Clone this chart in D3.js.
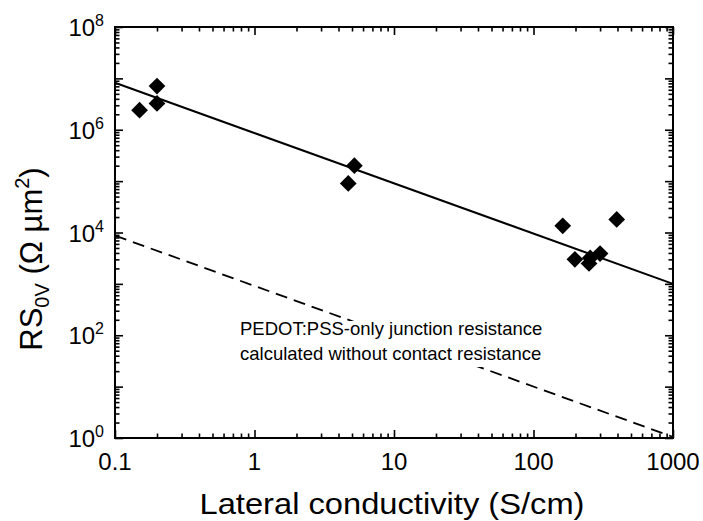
<!DOCTYPE html>
<html>
<head>
<meta charset="utf-8">
<script src="https://d3js.org/d3.v7.min.js"></script>
<style>
  body { margin: 0; background: #fff; }
  text { font-family: Arial, "Liberation Sans", sans-serif; fill: #000; }
</style>
</head>
<body>
<div id="chart"></div>
<script>
// data
var conductivity = [0.15, 0.2, 0.2, 4.7, 5.2, 162, 198, 250, 255, 300, 395];
var resistance   = [2.4e6, 7.1e6, 3.25e6, 9.0e4, 2.0e5, 1.35e4, 3.0e3, 2.5e3, 3.2e3, 3.9e3, 1.8e4];
var fitLine    = [[0.1, 8.2e6], [1000, 1.0e3]];
var pedotLine  = [[0.1, 8700], [1000, 1.05]];
var xTickLabels = ["0.1", "1", "10", "100", "1000"];
var yTickExps   = [0, 2, 4, 6, 8];
var noteLines = ["PEDOT:PSS-only junction resistance", "calculated without contact resistance"];

var width = 703;
var height = 521;
var margin = {top: 27, right: 30, bottom: 83, left: 115};
var w = width - margin.left - margin.right;
var h = height - margin.top - margin.bottom;

var svg = d3.select("#chart").append("svg")
    .attr("width", width)
    .attr("height", height)
  .append("g")
    .attr("transform", "translate(" + margin.left + "," + margin.top + ")");

var x = d3.scaleLog().domain([0.1, 1000]).range([0, w]);
var y = d3.scaleLog().domain([1, 1e8]).range([h, 0]);

// decade ticks and the 2..9 minor ticks in between
function decades(lo, hi) {
  var out = [];
  for (var e = lo; e <= hi; e++) out.push(Math.pow(10, e));
  return out;
}
function minors(lo, hi) {
  var out = [];
  for (var e = lo; e < hi; e++)
    for (var k = 2; k <= 9; k++) out.push(k * Math.pow(10, e));
  return out;
}
var xMajor = decades(-1, 3), xMinor = minors(-1, 3);
var yMajor = decades(0, 8), yMinor = minors(0, 8);

function tickAxis(gen, scale, vals, size) {
  return gen(scale).tickValues(vals).tickSize(-size).tickSizeOuter(0).tickFormat("");
}

var axes = [
  [d3.axisBottom, x, "translate(0," + h + ")"],
  [d3.axisTop, x, "translate(0,0)"],
  [d3.axisLeft, y, "translate(0,0)"],
  [d3.axisRight, y, "translate(" + w + ",0)"]
];
axes.forEach(function(a) {
  var vals = (a[1] === x) ? [xMajor, xMinor] : [yMajor, yMinor];
  svg.append("g").attr("transform", a[2]).call(tickAxis(a[0], a[1], vals[0], 8));
  svg.append("g").attr("transform", a[2]).call(tickAxis(a[0], a[1], vals[1], 4.5));
});
svg.selectAll(".domain").remove();
svg.selectAll(".tick line").attr("stroke", "#000").attr("stroke-width", 1.6);

// frame
svg.append("rect")
    .attr("width", w)
    .attr("height", h)
    .attr("fill", "none")
    .attr("stroke", "#000")
    .attr("stroke-width", 2);

// x tick labels
svg.selectAll(".xlab")
    .data(xMajor)
  .enter().append("text")
    .attr("class", "xlab")
    .attr("x", function(d) { return x(d); })
    .attr("y", h + 32)
    .style("text-anchor", "middle")
    .style("font-size", "24px")
    .text(function(d, i) { return xTickLabels[i]; });

// y tick labels, 10 with a raised exponent
var ylab = svg.selectAll(".ylab")
    .data(yTickExps)
  .enter().append("text")
    .attr("class", "ylab")
    .attr("x", -11)
    .attr("y", function(d) { return y(Math.pow(10, d)) + 9; })
    .style("text-anchor", "end")
    .style("font-size", "24px");
ylab.append("tspan").text("10");
ylab.append("tspan")
    .attr("dy", -10)
    .style("font-size", "16px")
    .text(function(d) { return d; });

svg.append("clipPath").attr("id", "plotclip")
  .append("rect").attr("width", w).attr("height", h);

var line = d3.line()
    .x(function(d) { return x(d[0]); })
    .y(function(d) { return y(d[1]); });

svg.append("path")
    .datum(pedotLine)
    .attr("clip-path", "url(#plotclip)")
    .attr("d", line)
    .attr("fill", "none")
    .attr("stroke", "#000")
    .attr("stroke-width", 1.8)
    .attr("stroke-dasharray", "12,7");

svg.append("path")
    .datum(fitLine)
    .attr("d", line)
    .attr("fill", "none")
    .attr("stroke", "#000")
    .attr("stroke-width", 2);

// annotation sits on a white box that hides the dashes
svg.append("rect")
    .attr("x", 121)
    .attr("y", 294)
    .attr("width", 312)
    .attr("height", 46)
    .attr("fill", "#fff");

svg.selectAll(".note")
    .data(noteLines)
  .enter().append("text")
    .attr("class", "note")
    .attr("x", 125)
    .attr("y", function(d, i) { return 308 + i * 25; })
    .style("font-size", "18.5px")
    .text(function(d) { return d; });

// diamonds
svg.selectAll(".pt")
    .data(conductivity)
  .enter().append("path")
    .attr("class", "pt")
    .attr("d", d3.symbol().type(d3.symbolSquare).size(140))
    .attr("transform", function(d, i) {
      return "translate(" + x(d) + "," + y(resistance[i]) + ") rotate(45)";
    })
    .attr("fill", "#000");

// axis titles
svg.append("text")
    .attr("x", 277)
    .attr("y", h + 76)
    .attr("textLength", 385)
    .attr("lengthAdjust", "spacingAndGlyphs")
    .style("text-anchor", "middle")
    .style("font-size", "30px")
    .text("Lateral conductivity (S/cm)");

var yt = svg.append("text")
    .attr("transform", "translate(-73,232) rotate(-90)")
    .style("text-anchor", "middle")
    .style("font-size", "31px");
yt.append("tspan").text("RS");
yt.append("tspan").attr("dy", 7).style("font-size", "20px").text("0V");
yt.append("tspan").attr("dy", -7).text(" (\u03A9 \u00B5m");
yt.append("tspan").attr("dy", -13).style("font-size", "20px").text("2");
yt.append("tspan").attr("dy", 13).text(")");
</script>
</body>
</html>
